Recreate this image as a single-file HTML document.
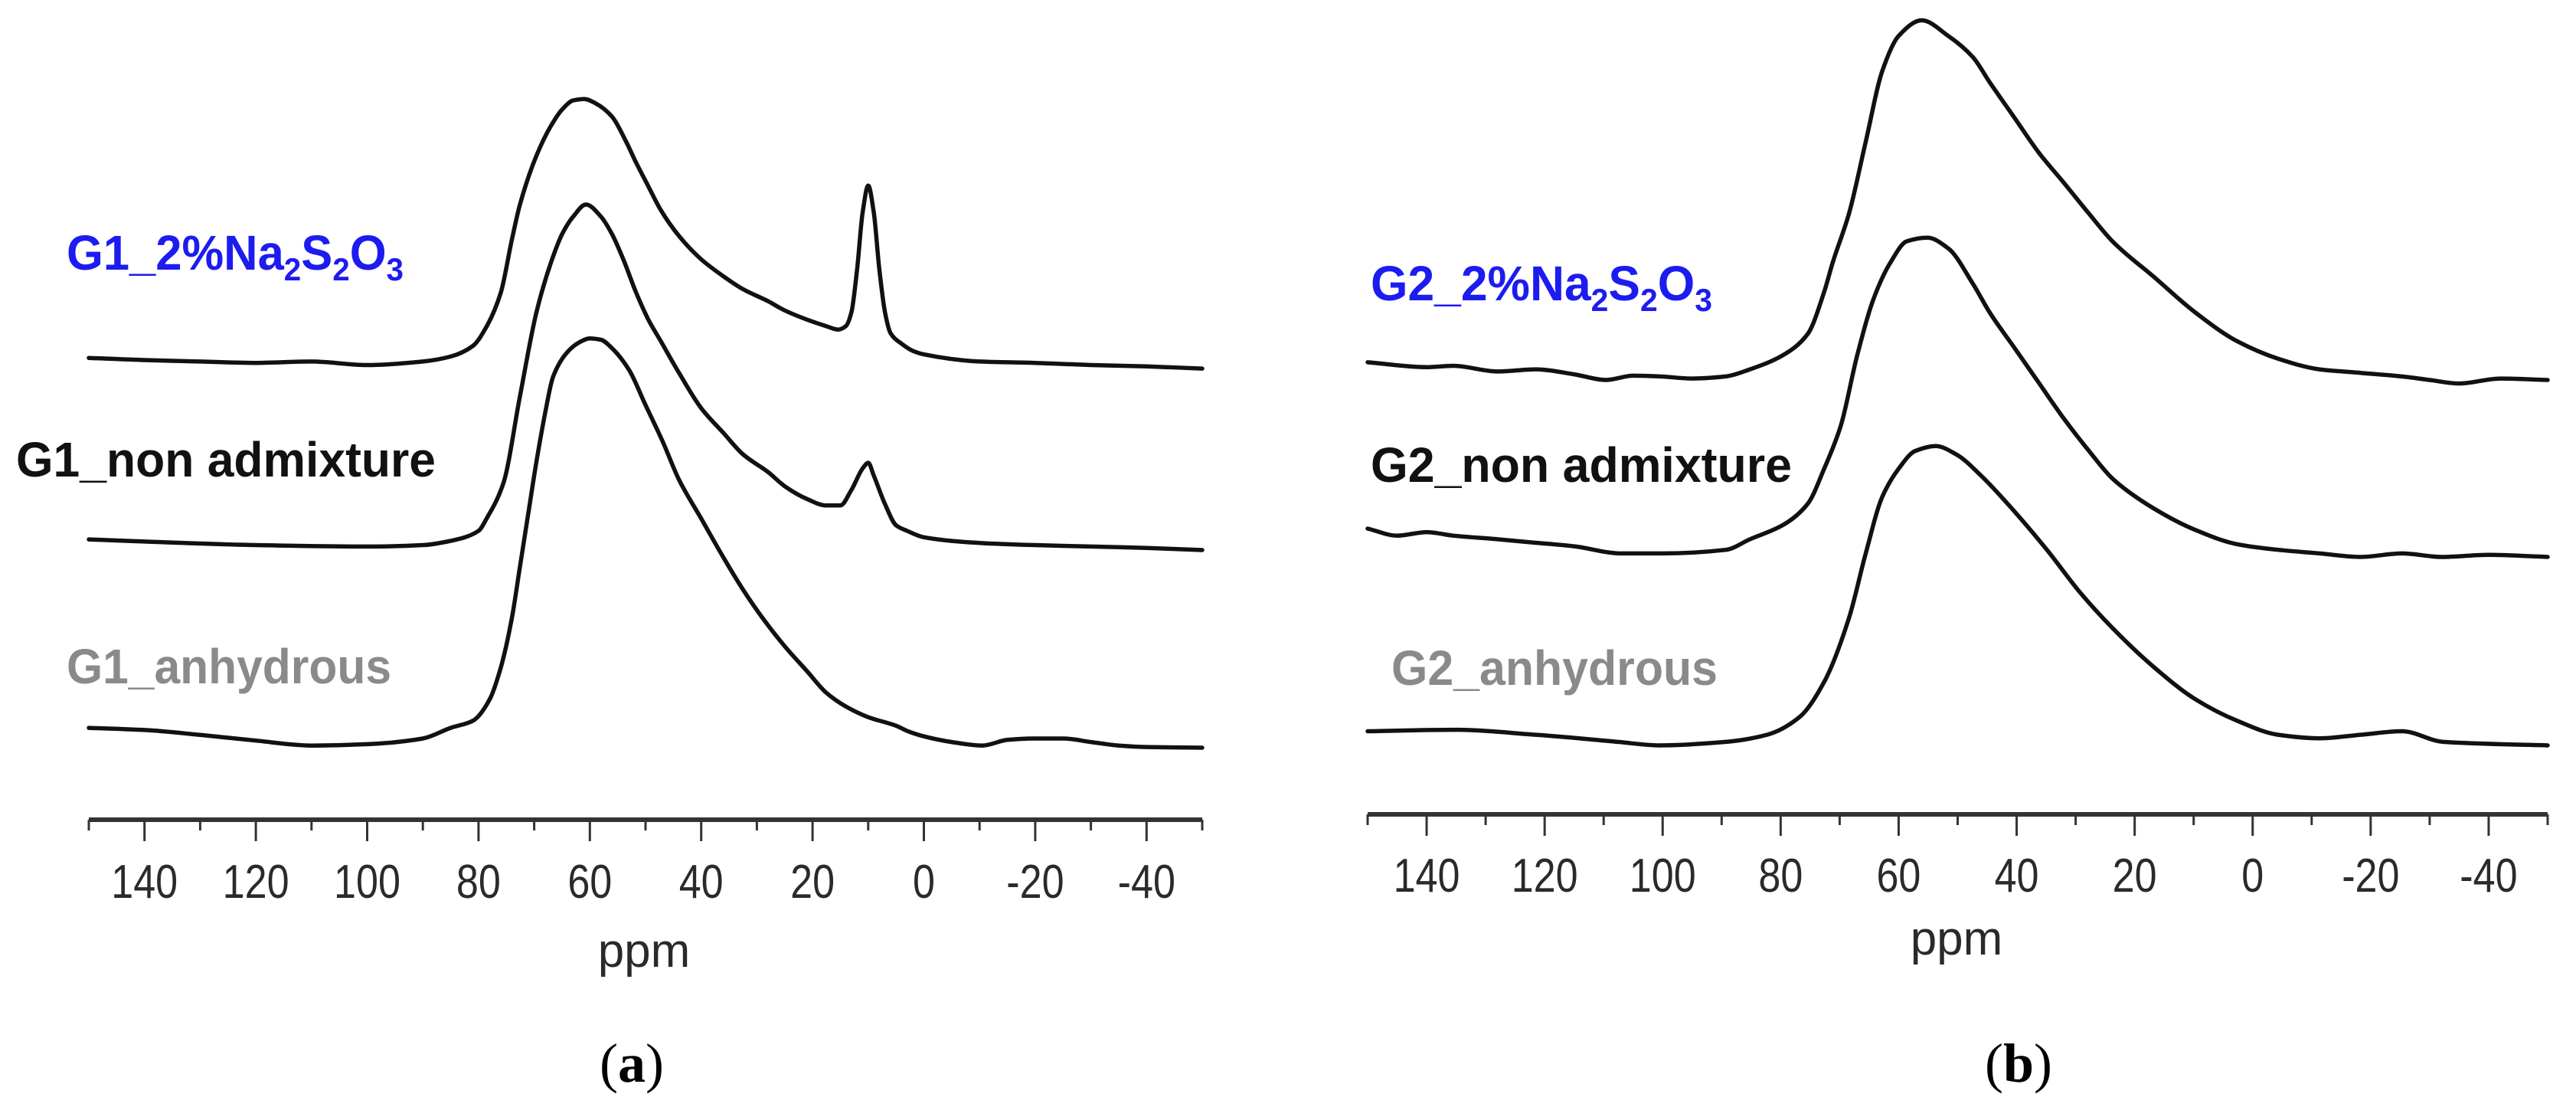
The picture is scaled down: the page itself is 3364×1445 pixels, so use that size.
<!DOCTYPE html>
<html><head><meta charset="utf-8"><style>
html,body{margin:0;padding:0;background:#fff;}
svg{display:block;}
</style></head><body>
<svg id="fig" width="3364" height="1445" viewBox="0 0 3364 1445" xmlns="http://www.w3.org/2000/svg">
<rect width="3364" height="1445" fill="#fff"/>
<g id="panelA"></g>
<g id="panelB"></g>
</svg>
<script>
// ---- data (ppm vs intensity, a.u.) ----
const tickValues = [140,120,100,80,60,40,20,0,-20,-40];
const tickLabels = ["140","120","100","80","60","40","20","0","-20","-40"];
// Panel a
const a1Ppm = [150,140,130,120,110,100,90,85,81,78.5,76,74,72.6,69.6,67,65,63,61,59,56,53.5,51.8,49.5,47.3,44,40,36,32.5,28,25,21,17.6,15.4,14,13,12,11,10,9,8,7,6,4,2,0,-10,-20,-30,-40,-50];
const a1Int = [3,0,-2,-4,-2,-7,-2,5,20,48,95,170,218,288,330,353,366,368,362,343,308,280,245,212,175,142,118,100,83,70,57,48,43,48,68,128,208,246,208,128,68,38,23,13,8,-2,-4,-7,-9,-12];
const a2Ppm = [150,140,120,100,90,85,80,78.5,75.5,72.6,69.6,67,65,63,60.7,58,56,54,51.8,49.5,47.3,44,40,36,32.5,28,25,21,17.6,15,13,11,10,9,7,5,3,0,-10,-20,-30,-40,-50];
const a2Int = [15,12,7,5,7,13,27,45,95,215,335,405,445,470,487,470,445,410,365,325,295,250,200,165,135,110,90,72,63,63,85,115,123,105,65,35,27,18,10,7,5,3,0];
const a3Ppm = [150,140,130,120,110,100,90,85,81,78,76,74,72.6,71,69.6,68,66.6,64,62,60,58,56,53,50,47,44,40,36,32.5,29,25,21,17.6,14,10,5,2.8,0,-5,-10.5,-15,-19.5,-25,-30,-35,-40,-50];
const a3Int = [28,25,18,10,3,5,13,28,38,68,113,183,253,333,403,473,523,558,571,577,575,563,533,483,433,378,323,268,223,183,143,108,78,58,43,31,23,16,8,3,11,13,13,8,3,1,0];
// Panel b
const b1Ppm = [150,140,135.5,128,121.5,115,109.6,105,100.5,95,89.3,85.2,79.6,75.4,72.6,71.2,68.4,65.6,62.8,60,56.1,51.6,47.4,44.6,40.4,36.2,32,27.8,23.7,16.7,9.7,2.7,-4.3,-11.3,-18.3,-25.3,-30,-35,-42,-50];
const b1Int = [25,18,20,12,15,8,0,6,5,2,5,15,35,65,125,165,235,335,435,485,507,485,455,420,370,320,278,235,195,145,95,55,30,15,10,5,0,-5,2,0];
const b2Ppm = [150,145,140,135.5,128,121.5,115,107,100,89.3,85.2,79.6,75.4,72.6,69.8,67,64.2,61.4,58.6,55.1,51.6,47.4,44.6,40.4,36.2,32,27.8,23.7,16.7,9.7,2.7,-4.3,-11.3,-18.3,-25.3,-32,-40,-50];
const b2Int = [40,30,35,30,25,20,15,5,5,10,25,45,75,125,185,285,365,415,445,450,435,385,345,295,245,195,150,110,68,38,18,10,5,0,5,0,3,0];
const b3Ppm = [150,135.5,121.5,107.6,100.5,89.3,82.3,76.8,72.6,68.4,65.6,62.8,60,57.2,53.7,50.2,46,40.4,34.8,29.2,23.7,16.7,9.7,2.7,-4.3,-11.3,-18.3,-25.3,-32.3,-50];
const b3Int = [20,22,15,5,0,5,15,40,90,180,270,350,390,415,422,410,380,330,275,215,165,110,65,35,15,10,15,20,5,0];

const SCALE_Y = 0.926; // px per intensity unit
const panels = [
  {g:'panelA', x150:116, xm50:1570, axisY:1070, ticksY:1150, ppmX:841, ppmY:1262, capX:825, cap:'a',
   series:[
     {name:'g1-2pct-na2s2o3-trace', ppm:a1Ppm, val:a1Int, base:470},
     {name:'g1-non-admixture-trace', ppm:a2Ppm, val:a2Int, base:718},
     {name:'g1-anhydrous-trace', ppm:a3Ppm, val:a3Int, base:976}
   ],
   labels:[
     {name:'g1-2pct-na2s2o3-label', prefix:'G1_2%', color:'#1c1cf0', x:87, y:352, w:440, chem:true},
     {name:'g1-non-admixture-label', text:'G1_non admixture', color:'#111', x:21, y:622, w:548},
     {name:'g1-anhydrous-label', text:'G1_anhydrous', color:'#8a8a8a', x:87, y:892, w:424}
   ]},
  {g:'panelB', x150:1786, xm50:3327, axisY:1063, ticksY:1142, ppmX:2555, ppmY:1246, capX:2636, cap:'b',
   series:[
     {name:'g2-2pct-na2s2o3-trace', ppm:b1Ppm, val:b1Int, base:496},
     {name:'g2-non-admixture-trace', ppm:b2Ppm, val:b2Int, base:727},
     {name:'g2-anhydrous-trace', ppm:b3Ppm, val:b3Int, base:973}
   ],
   labels:[
     {name:'g2-2pct-na2s2o3-label', prefix:'G2_2%', color:'#1c1cf0', x:1790, y:392, w:446, chem:true},
     {name:'g2-non-admixture-label', text:'G2_non admixture', color:'#111', x:1790, y:629, w:550},
     {name:'g2-anhydrous-label', text:'G2_anhydrous', color:'#8a8a8a', x:1817, y:894, w:426}
   ]}
];
const NS='http://www.w3.org/2000/svg';
function mk(tag, attrs, parent){const e=document.createElementNS(NS,tag);for(const k in attrs)e.setAttribute(k,attrs[k]);parent.appendChild(e);return e;}
// monotone cubic (Fritsch-Carlson) path, x strictly increasing
function monotone(pts){
  const n=pts.length, dx=[], m=[], t=new Array(n);
  for(let i=0;i<n-1;i++){dx.push(pts[i+1][0]-pts[i][0]);m.push((pts[i+1][1]-pts[i][1])/dx[i]);}
  t[0]=m[0]; t[n-1]=m[n-2];
  for(let i=1;i<n-1;i++){
    if(m[i-1]*m[i]<=0) t[i]=0;
    else { const w1=2*dx[i]+dx[i-1], w2=dx[i]+2*dx[i-1]; t[i]=(w1+w2)/(w1/m[i-1]+w2/m[i]); }
  }
  let d='M'+pts[0][0].toFixed(1)+','+pts[0][1].toFixed(1);
  for(let i=0;i<n-1;i++){
    const h=dx[i]/3;
    d+=' C'+(pts[i][0]+h).toFixed(1)+','+(pts[i][1]+t[i]*h).toFixed(1)+' '+(pts[i+1][0]-h).toFixed(1)+','+(pts[i+1][1]-t[i+1]*h).toFixed(1)+' '+pts[i+1][0].toFixed(1)+','+pts[i+1][1].toFixed(1);
  }
  return d;
}
panels.forEach(p=>{
  const g=document.getElementById(p.g);
  const xs=v=>p.x150+(150-v)/200*(p.xm50-p.x150);
  const ax=mk('line',{x1:p.x150,x2:p.xm50,y1:p.axisY,y2:p.axisY,stroke:'#333','stroke-width':6},g);
  
  
  for(let v=150;v>=-50;v-=10){
    const major=(v%20===0);
    const t=mk('line',{x1:xs(v),x2:xs(v),y1:p.axisY,y2:p.axisY+(major?28:14),stroke:'#333','stroke-width':3},g);
    
    
  }
  tickValues.forEach((v,i)=>{
    const t=mk('text',{x:xs(v),y:p.ticksY+22,'text-anchor':'middle','font-family':'Liberation Sans, sans-serif','font-size':62,fill:'#2a2a2a',transform:'translate('+xs(v)+',0) scale(0.84,1) translate('+(-xs(v))+',0)'},g);
    t.textContent=tickLabels[i];
    
    
  });
  const pl=mk('text',{x:p.ppmX,y:p.ppmY,'text-anchor':'middle','font-family':'Liberation Sans, sans-serif','font-size':62,fill:'#2a2a2a'},g);
  pl.textContent='ppm';
  
  
  p.series.forEach(s=>{
    const pts=s.ppm.map((v,i)=>[xs(v),s.base-s.val[i]*SCALE_Y]);
    const path=mk('path',{d:monotone(pts),fill:'none',stroke:'#111','stroke-width':5.5,'stroke-linejoin':'round','stroke-linecap':'round'},g);
    
    
  });
  p.labels.forEach(l=>{
    const t=mk('text',{x:l.x,y:l.y,'font-family':'Liberation Sans, DejaVu Sans, sans-serif','font-weight':'bold','font-size':64,fill:l.color,textLength:l.w,lengthAdjust:'spacingAndGlyphs'},g);
    if(l.chem){
      t.textContent=l.prefix+'Na';
      const parts=[['2',1],['S',0],['2',1],['O',0],['3',1]];
      parts.forEach(pp=>{
        const ts=mk('tspan',pp[1]?{'font-size':42,dy:14}:{'font-size':64,dy:-14},t);
        ts.textContent=pp[0];
      });
    } else t.textContent=l.text;
    
    
  });
  const c=mk('text',{x:p.capX,y:1412,'text-anchor':'middle','font-family':'Liberation Serif, serif','font-size':72,fill:'#000'},g);
  const o=mk('tspan',{},c);o.textContent='(';
  const m=mk('tspan',{'font-weight':'bold'},c);m.textContent=p.cap;
  const e=mk('tspan',{},c);e.textContent=')';
  
  
});
</script>
</body></html>
